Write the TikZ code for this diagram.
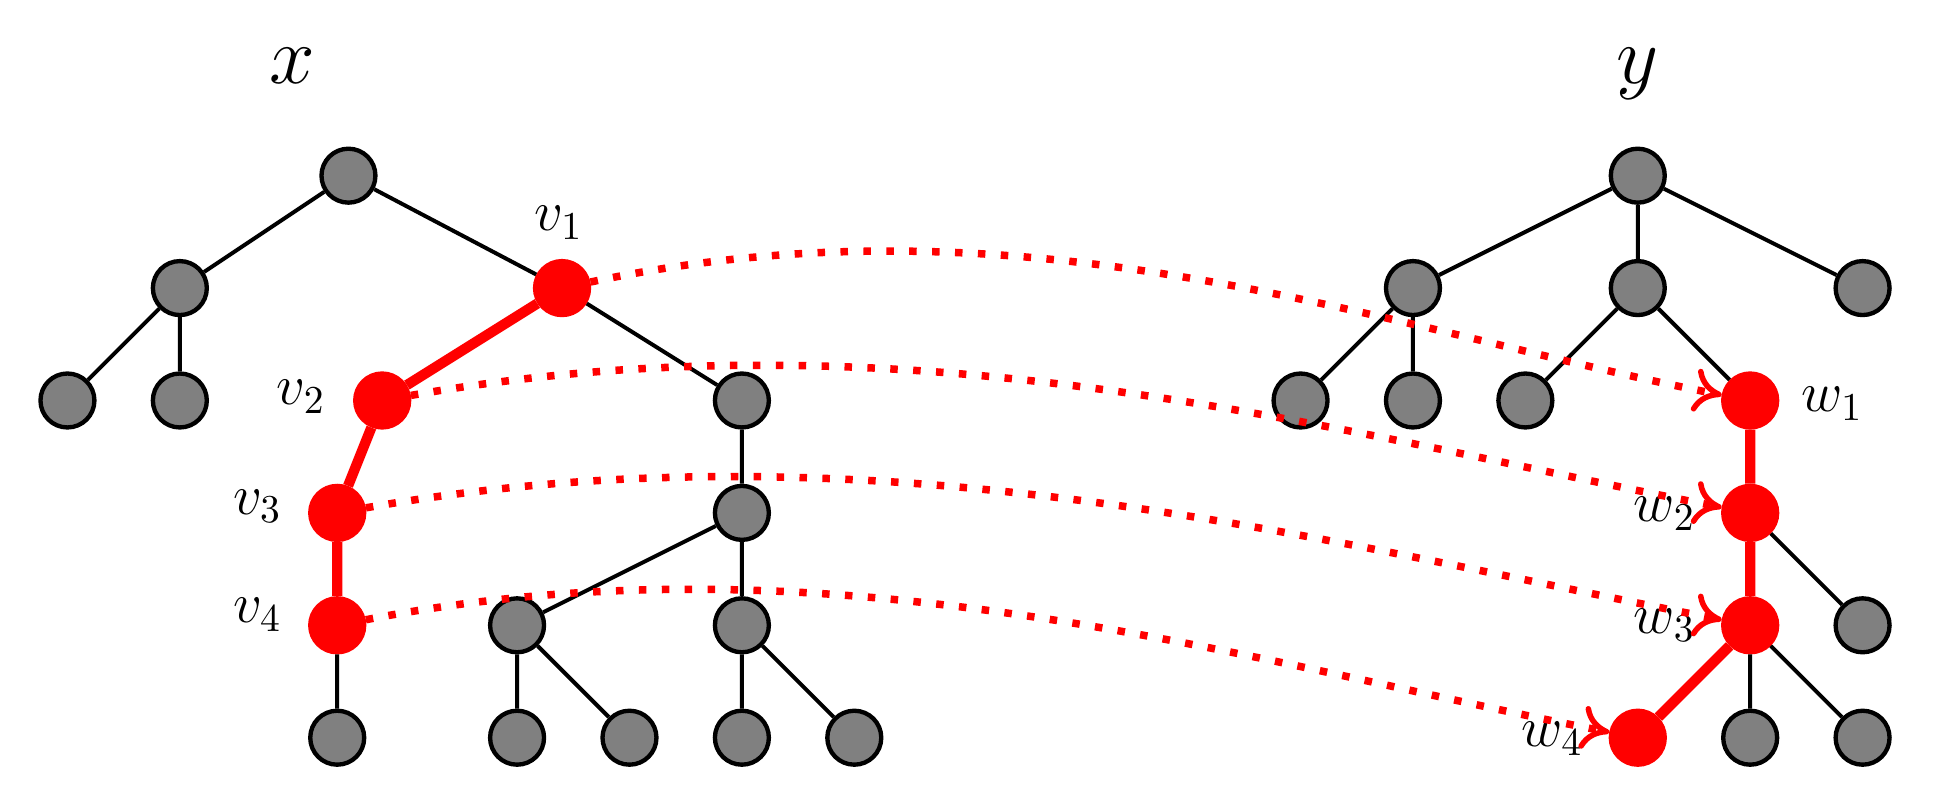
\documentclass[tikz,border=0pt]{standalone}
\usetikzlibrary{arrows.meta}
\begin{document}
\begin{tikzpicture}[
  vtx/.style={circle,draw=black,fill=gray,line width=1.1pt,minimum size=0.48cm,inner sep=0pt},
  hit/.style={vtx,draw=red,fill=red},
  tie/.style={line width=1pt},
  redtie/.style={red,line width=2.6pt},
  corr/.style={red,line width=1.9pt,dash pattern=on 1.9pt off 3.9pt,
    -{To[length=7pt,width=11pt,line width=1.4pt]}},
  lbl/.style={anchor=base,inner sep=0pt,font=\Large},
  ttl/.style={anchor=base,inner sep=0pt,font=\huge}]
\useasboundingbox (-0.60,-0.625) rectangle (16.81,6.563);
% left tree x
\begin{scope}
\node[vtx] (xr) at (2.5,5) {};
\node[vtx] (xa) at (1,4) {}; \node[hit] (v1) at (4.4,4) {};
\node[vtx] (xb) at (0,3) {}; \node[vtx] (xc) at (1,3) {};
\node[hit] (v2) at (2.8,3) {}; \node[vtx] (xd) at (6,3) {};
\node[hit] (v3) at (2.4,2) {}; \node[vtx] (xe) at (6,2) {};
\node[hit] (v4) at (2.4,1) {}; \node[vtx] (xf) at (4,1) {}; \node[vtx] (xg) at (6,1) {};
\node[vtx] (xh) at (2.4,0) {}; \node[vtx] (xi) at (4,0) {}; \node[vtx] (xj) at (5,0) {};
\node[vtx] (xk) at (6,0) {}; \node[vtx] (xl) at (7,0) {};
\draw[tie] (xr)--(xa) (xr)--(v1) (xa)--(xb) (xa)--(xc) (v1)--(xd) (xd)--(xe)
  (xe)--(xf) (xe)--(xg) (v4)--(xh) (xf)--(xi) (xf)--(xj) (xg)--(xk) (xg)--(xl);
\draw[redtie] (v1)--(v2) (v2)--(v3) (v3)--(v4);
\node[ttl] (tx) at (2.0,5.82) {$x$};
\node[lbl] (lv1) at (4.37,4.51) {$v_1$};
\node[lbl] (lv2) at (2.08,2.96) {$v_2$};
\node[lbl] (lv3) at (1.69,1.99) {$v_3$};
\node[lbl] (lv4) at (1.69,1.025) {$v_4$};
\end{scope}
% right tree y
\begin{scope}[xshift=13.97cm]
\node[vtx] (yr) at (0,5) {};
\node[vtx] (ya) at (-2,4) {}; \node[vtx] (yb) at (0,4) {}; \node[vtx] (yc) at (2,4) {};
\node[vtx] (yd) at (-3,3) {}; \node[vtx] (ye) at (-2,3) {}; \node[vtx] (yf) at (-1,3) {};
\node[hit] (w1) at (1,3) {};
\node[hit] (w2) at (1,2) {};
\node[hit] (w3) at (1,1) {}; \node[vtx] (yg) at (2,1) {};
\node[hit] (w4) at (0,0) {}; \node[vtx] (yh) at (1,0) {}; \node[vtx] (yi) at (2,0) {};
\draw[tie] (yr)--(ya) (yr)--(yb) (yr)--(yc) (ya)--(yd) (ya)--(ye) (yb)--(yf) (yb)--(w1)
  (w2)--(yg) (w3)--(yh) (w3)--(yi);
\draw[redtie] (w1)--(w2) (w2)--(w3) (w3)--(w4);
\node[ttl] (ty) at (0,5.82) {$y$};
\node[lbl] (lw1) at (1.73,2.90) {$w_1$};
\node[lbl] (lw2) at (0.24,1.92) {$w_2$};
\node[lbl] (lw3) at (0.24,0.93) {$w_3$};
\node[lbl] (lw4) at (-0.76,-0.08) {$w_4$};
\end{scope}
% the mapping
\draw[corr] (v1) to[out=12,in=169,out distance=4cm,in distance=3cm] (w1);
\draw[corr] (v2) to[out=10,in=169,out distance=4.5cm,in distance=3.5cm] (w2);
\draw[corr] (v3) to[out=10,in=169,out distance=4.6cm,in distance=3.6cm] (w3);
\draw[corr] (v4) to[out=11,in=169,out distance=4.2cm,in distance=3.3cm] (w4);
\end{tikzpicture}
\end{document}
